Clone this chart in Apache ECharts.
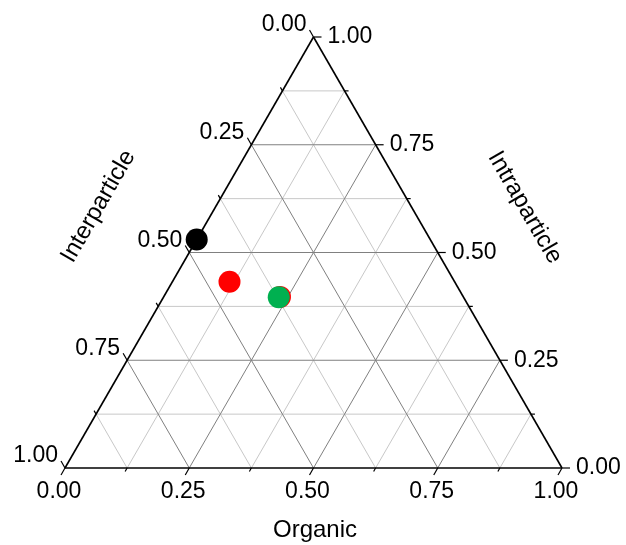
<!DOCTYPE html>
<html>
<head>
<meta charset="utf-8">
<title>Pore volume composition</title>
<script src="https://cdn.jsdelivr.net/npm/echarts@6/dist/echarts.min.js"></script>
<style>
  html, body { margin: 0; padding: 0; background: #ffffff; }
  #chart { width: 626px; height: 545px; }
</style>
</head>
<body>
<div id="chart"></div>
<script>
// Ternary components of each sample (fractions summing to 1)
const organic       = [0.000, 0.115, 0.234, 0.232];
const intraparticle = [0.530, 0.432, 0.397, 0.396];
const interparticle = [0.470, 0.453, 0.369, 0.372];
const pointColors   = ['#000000', '#FF0000', '#FF0000', '#00B050'];

// Axis scale
const majorTicks = [0, 0.25, 0.5, 0.75, 1];
const minorTicks = [0.125, 0.375, 0.625, 0.875];
const tickLabels = ['0.00', '0.25', '0.50', '0.75', '1.00'];
const axisNames  = { organic: 'Organic', intra: 'Intraparticle', inter: 'Interparticle' };

const SQ = Math.sqrt(3) / 2;
const FONT = 'Liberation Sans, Arial, Helvetica, sans-serif';

// organic / intraparticle fractions -> cartesian position in the triangle
function tern(o, b) { return [o + b / 2, b * SQ]; }

// grid segments: [o1, b1, o2, b2, major]
const gridSegs = [];
function addGrid(f, major) {
  gridSegs.push([0, f, 1 - f, f, major]);         // constant intraparticle
  gridSegs.push([f, 0, f, 1 - f, major]);         // constant organic
  gridSegs.push([0, 1 - f, 1 - f, 0, major]);     // constant interparticle
}
minorTicks.forEach(f => addGrid(f, 0));
majorTicks.slice(1, -1).forEach(f => addGrid(f, 1));

const edges = [[0, 0, 1, 0], [1, 0, 0, 1], [0, 1, 0, 0]];

// ticks: [axis (0 organic, 1 intra, 2 inter), value, major, labelIndex]
const ticks = [];
[0, 1, 2].forEach(ax => {
  majorTicks.forEach((v, i) => ticks.push([ax, v, 1, i]));
  minorTicks.forEach(v => ticks.push([ax, v, 0, -1]));
});

const scatterData = organic.map((o, i) => {
  const s = o + intraparticle[i] + interparticle[i];
  const p = tern(o / s, intraparticle[i] / s);
  return { value: p, itemStyle: { color: pointColors[i], opacity: 1 } };
});

const chart = echarts.init(document.getElementById('chart'), null, { renderer: 'canvas' });

chart.setOption({
  animation: false,
  backgroundColor: '#ffffff',
  grid: { left: 65, top: 37, width: 497, height: 431 },
  xAxis: { type: 'value', min: 0, max: 1, show: false },
  yAxis: { type: 'value', min: 0, max: SQ, show: false },
  series: [
    {
      type: 'custom', silent: true, clip: false, z: 1,
      data: gridSegs,
      renderItem: (params, api) => {
        const a = api.coord(tern(api.value(0), api.value(1)));
        const b = api.coord(tern(api.value(2), api.value(3)));
        return {
          type: 'line',
          shape: { x1: a[0], y1: a[1], x2: b[0], y2: b[1] },
          style: { stroke: api.value(4) ? '#808080' : '#c8c8c8', lineWidth: 1 }
        };
      }
    },
    {
      type: 'custom', silent: true, clip: false, z: 3,
      data: edges,
      renderItem: (params, api) => {
        const a = api.coord(tern(api.value(0), api.value(1)));
        const b = api.coord(tern(api.value(2), api.value(3)));
        return {
          type: 'line',
          shape: { x1: a[0], y1: a[1], x2: b[0], y2: b[1] },
          style: { stroke: '#000000', lineWidth: 1.6 }
        };
      }
    },
    {
      type: 'custom', silent: true, clip: false, z: 3,
      data: ticks,
      renderItem: (params, api) => {
        const ax = api.value(0), v = api.value(1), major = api.value(2), li = api.value(3);
        const len = major ? 8 : 4;
        let base, dir;
        if (ax === 0) {            // organic along the bottom, ticks point down-left
          base = api.coord(tern(v, 0));
          dir = [-0.5, SQ];
        } else if (ax === 1) {     // intraparticle along the right edge, ticks point right
          base = api.coord(tern(1 - v, v));
          dir = [1, 0];
        } else {                   // interparticle along the left edge, ticks point up-left
          base = api.coord(tern(0, 1 - v));
          dir = [-0.5, -SQ];
        }
        const end = [base[0] + dir[0] * len, base[1] + dir[1] * len];
        const children = [{
          type: 'line',
          shape: { x1: base[0], y1: base[1], x2: end[0], y2: end[1] },
          style: { stroke: '#000000', lineWidth: 1.2 }
        }];
        if (li >= 0) {
          let pos, align;
          if (ax === 0) { pos = [end[0] - 2, base[1] + 24]; align = 'center'; }
          else if (ax === 1) { pos = [end[0] + 6, base[1]]; align = 'left'; }
          else { pos = [end[0] - 3, end[1] - 5]; align = 'right'; }
          children.push({
            type: 'text',
            x: pos[0], y: pos[1],
            style: {
              text: tickLabels[li], fill: '#000000',
              font: '23px ' + FONT, align: align, verticalAlign: 'middle'
            }
          });
        }
        return { type: 'group', children: children };
      }
    },
    {
      type: 'custom', silent: true, clip: false, z: 3,
      data: [[0], [1], [2]],
      renderItem: (params, api) => {
        const ax = api.value(0);
        let mid, off, rot, name;
        if (ax === 0) { mid = api.coord(tern(0.5, 0)); off = [1.5, 62]; rot = 0; name = axisNames.organic; }
        else if (ax === 1) { mid = api.coord(tern(0.5, 0.5)); off = [87, -45]; rot = -Math.PI / 3; name = axisNames.intra; }
        else { mid = api.coord(tern(0, 0.5)); off = [-91, -46]; rot = Math.PI / 3; name = axisNames.inter; }
        return {
          type: 'text',
          x: mid[0] + off[0], y: mid[1] + off[1], rotation: rot,
          style: {
            text: name, fill: '#000000', font: '24px ' + FONT,
            align: 'center', verticalAlign: 'middle'
          }
        };
      }
    },
    {
      type: 'scatter', silent: true, z: 5,
      symbol: 'circle', symbolSize: 22,
      itemStyle: { opacity: 1 },
      data: scatterData
    }
  ]
});
</script>
</body>
</html>
